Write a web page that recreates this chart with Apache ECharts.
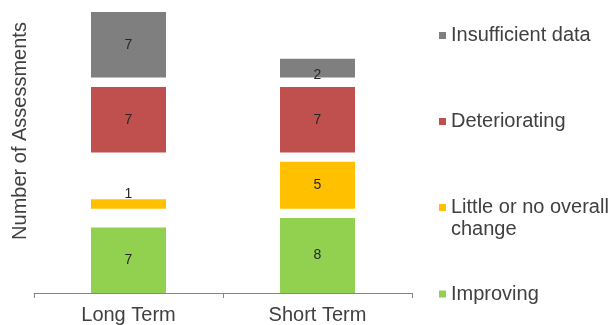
<!DOCTYPE html>
<html>
<head>
<meta charset="utf-8">
<script src="https://cdn.jsdelivr.net/npm/echarts@6/dist/echarts.min.js"></script>
<style>
html,body{margin:0;padding:0;background:#fff;}
#chart{width:614px;height:325px;}
</style>
</head>
<body>
<div id="chart"></div>
<script>
// Data
var categories = ['Long Term', 'Short Term'];
var improving = [7, 8];
var littleChange = [1, 5];
var deteriorating = [7, 7];
var insufficient = [7, 2];
// invisible spacers that align the bands across the two bars
var gapAfterImproving = [2, 1];
var gapAfterLittle = [5, 1];
var gapAfterDeteriorating = [1, 1];
var yMax = 30;

var FONT = '"Liberation Sans", Arial, sans-serif';
var TEXT = '#404040';

function valueSeries(name, data, color, labelFor) {
  return {
    name: name, type: 'bar', stack: 'total', barWidth: 75,
    itemStyle: { color: color },
    label: { show: true, position: 'inside', color: '#262626', fontSize: 14, fontFamily: FONT },
    data: data.map(function (v, i) { return labelFor ? labelFor(v, i) : v; })
  };
}
function spacer(data) {
  return {
    name: '_spacer', type: 'bar', stack: 'total', barWidth: 75, silent: true,
    itemStyle: { color: 'rgba(0,0,0,0)' }, label: { show: false },
    emphasis: { disabled: true }, tooltip: { show: false },
    data: data
  };
}
function legendAt(name, top) {
  return {
    data: [name], orient: 'vertical', left: 439, top: top, padding: 0,
    icon: 'rect', itemWidth: 7, itemHeight: 7,
    formatter: function (n) { return n === 'Little or no overall change' ? '\nLittle or no overall\nchange' : n; },
    textStyle: { color: TEXT, fontSize: 20, fontFamily: FONT, lineHeight: 22 }
  };
}

var chart = echarts.init(document.getElementById('chart'), null, { renderer: 'canvas' });
chart.setOption({
  animation: false,
  backgroundColor: '#ffffff',
  grid: { left: 34, right: 202, top: 12, bottom: 32 },
  legend: [
    legendAt('Insufficient data', 24.5),
    legendAt('Deteriorating', 110.5),
    legendAt('Little or no overall change', 174.5),
    legendAt('Improving', 283)
  ],
  xAxis: {
    type: 'category', data: categories,
    axisLine: { lineStyle: { color: '#868686', width: 1 } },
    axisTick: { show: true, length: 5, lineStyle: { color: '#868686' } },
    axisLabel: { color: TEXT, fontSize: 20, fontFamily: FONT, margin: 12 }
  },
  yAxis: {
    type: 'value', min: 0, max: yMax,
    axisLine: { show: false }, axisTick: { show: false },
    axisLabel: { show: false }, splitLine: { show: false }
  },
  graphic: [{
    type: 'text', x: 20, y: 131, rotation: Math.PI / 2,
    style: { text: 'Number of Assessments', fill: TEXT, fontSize: 20, fontFamily: FONT, align: 'center', verticalAlign: 'middle' }
  }],
  series: [
    valueSeries('Improving', improving, '#92d050'),
    spacer(gapAfterImproving),
    valueSeries('Little or no overall change', littleChange, '#ffc000', function (v) {
      return v < 2 ? { value: v, label: { position: 'top', distance: 0, offset: [0, 2] } } : v;
    }),
    spacer(gapAfterLittle),
    valueSeries('Deteriorating', deteriorating, '#c0504d'),
    spacer(gapAfterDeteriorating),
    valueSeries('Insufficient data', insufficient, '#7f7f7f', function (v) {
      return v < 3 ? { value: v, label: { offset: [0, 7] } } : v;
    })
  ]
});
</script>
</body>
</html>
